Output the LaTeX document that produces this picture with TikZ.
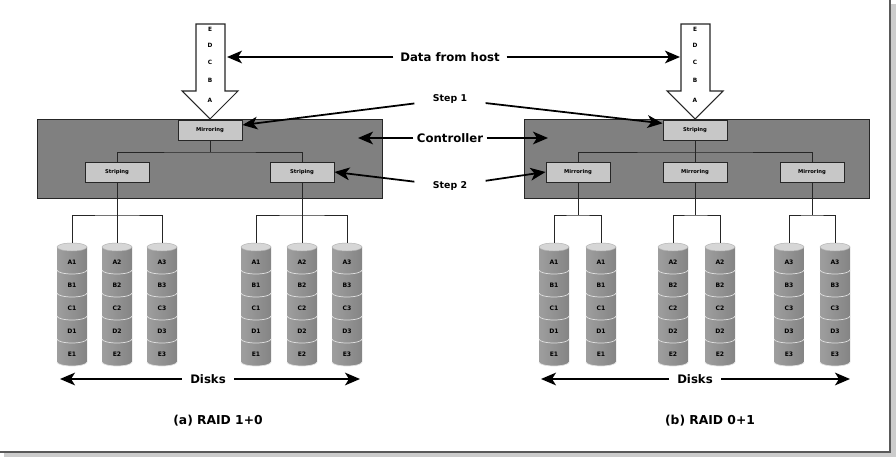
\documentclass[tikz,border=0pt]{standalone}
\usepackage{fontspec}
\setmainfont{DejaVu Sans}
\usetikzlibrary{positioning,arrows.meta,calc}
\tikzset{
  ctrl/.style={draw=black!85, thick, fill=black!50, minimum width=10.35cm, minimum height=2.37cm},
  unit/.style={draw=black!85, thick, fill=black!22, minimum width=1.92cm, minimum height=0.6cm, inner sep=0pt, font=\fontsize{4.5}{5}\selectfont\bfseries},
  lbl/.style={font=\fontsize{10}{12}\selectfont\bfseries, inner sep=1pt},
  steplbl/.style={font=\fontsize{8}{10}\selectfont\bfseries, inner ysep=1pt, inner xsep=0.55cm},
  capt/.style={font=\fontsize{10.5}{12}\selectfont\bfseries},
  ptr/.style={-{Stealth[length=4.5mm, width=3.8mm, inset=1.2mm]}, line width=1.5pt},
  wire/.style={draw=black!85, line width=0.8pt},
  hostarrow/.style={draw=black!85, line width=0.9pt, fill=white},
  letter/.style={font=\fontsize{5}{6}\selectfont\bfseries, inner sep=0pt},
  dlbl/.style={font=\fontsize{5.2}{6}\selectfont\bfseries, inner sep=0pt},
  disk/.style={left color=black!38, middle color=black!18, right color=black!48},
  diskrim/.style={draw=black!12, line width=0.6pt},
  disktop/.style={fill=black!16, draw=black!30, line width=0.4pt},
}
% one stack of disk blocks: x, name, number
\newcommand{\diskstack}[3]{%
  \coordinate (#2) at (#1,243);
  \foreach \k/\ltr in {5/E,4/D,3/C,2/B,1/A}{
    \pgfmathsetmacro{\yt}{247+(\k-1)*23}
    \pgfmathsetmacro{\yb}{\yt+23}
    \path[disk] (#1-15,\yt) -- (#1-15,\yb)
      arc[start angle=180, end angle=360, x radius=0.45cm, y radius=0.12cm]
      -- (#1+15,\yt) -- cycle;
    \draw[diskrim] (#1-15,\yb) arc[start angle=180, end angle=360, x radius=0.45cm, y radius=0.12cm];
    \node[dlbl] (#2-\ltr) at (#1,\yt+15) {\ltr#3};
  }
  \path[disktop] (#1,247) ellipse[x radius=0.45cm, y radius=0.12cm];
}

\begin{document}
\begin{tikzpicture}[x=0.03cm, y=-0.03cm]
  \useasboundingbox (0,0) rectangle (896,457);
  % frame shadow
  \fill[black!20] (4,452) rectangle (896,457);
  \fill[black!20] (890,4) rectangle (896,457);
  \draw[black!65, line width=1pt] (0,452) -- (890,452) -- (890,0);

  % controllers
  \node[ctrl] (ctrlL) at (209.5,158.5) {};
  \node[ctrl] (ctrlR) at (697,159) {};
  \coordinate (ctlL) at (358,138);
  \coordinate (ctlR) at (548,138);

  % data coming from the host
  \foreach \cx/\side in {210/L,695/R}{
    \draw[hostarrow] (\cx-14,24) -- (\cx+15,24) -- (\cx+15,91) -- (\cx+28,91)
      -- (\cx,119) -- (\cx-28,91) -- (\cx-14,91) -- cycle;
    \foreach \ltr/\y in {E/29,D/45,C/62,B/80,A/100}
      \node[letter] (in\side-\ltr) at (\cx,\y) {\ltr};
  }
  \coordinate (hostL) at (227,57);
  \coordinate (hostR) at (680,57);

  % RAID 1+0
  \node[unit] (mirL) at (210,130) {Mirroring};
  \node[unit] (strL1) at (117,172) {Striping};
  \node[unit] (strL2) at (302,172) {Striping};
  \coordinate (busL) at (210,152);
  \draw[wire] (mirL.south) -- (busL);
  \draw[wire] (strL1.north) |- (busL) -| (strL2.north);

  % RAID 0+1
  \node[unit] (strR) at (695,130) {Striping};
  \node[unit] (mirR1) at (578,172) {Mirroring};
  \node[unit] (mirR2) at (695,172) {Mirroring};
  \node[unit] (mirR3) at (812,172) {Mirroring};
  \coordinate (busR) at (695,152);
  \draw[wire] (strR.south) -- (mirR2.north);
  \draw[wire] (mirR1.north) |- (busR) -| (mirR3.north);

  % disks
  \diskstack{72}{dL1}{1}
  \diskstack{117}{dL2}{2}
  \diskstack{162}{dL3}{3}
  \diskstack{256}{dL4}{1}
  \diskstack{302}{dL5}{2}
  \diskstack{347}{dL6}{3}
  \diskstack{554}{dR1}{1}
  \diskstack{601}{dR2}{1}
  \diskstack{673}{dR3}{2}
  \diskstack{720}{dR4}{2}
  \diskstack{789}{dR5}{3}
  \diskstack{835}{dR6}{3}

  \coordinate (dbusL1) at (117,215);
  \coordinate (dbusL2) at (302,215);
  \coordinate (dbusR1) at (578,215);
  \coordinate (dbusR2) at (695,215);
  \coordinate (dbusR3) at (812,215);
  \draw[wire] (strL1.south) -- (dL2);
  \draw[wire] (dL1) |- (dbusL1) -| (dL3);
  \draw[wire] (strL2.south) -- (dL5);
  \draw[wire] (dL4) |- (dbusL2) -| (dL6);
  \draw[wire] (mirR1.south) -- (dbusR1);
  \draw[wire] (dR1) |- (dbusR1) -| (dR2);
  \draw[wire] (mirR2.south) -- (dbusR2);
  \draw[wire] (dR3) |- (dbusR2) -| (dR4);
  \draw[wire] (mirR3.south) -- (dbusR3);
  \draw[wire] (dR5) |- (dbusR3) -| (dR6);

  % labels in the middle
  \node[lbl, inner xsep=0.2cm] (host) at (450,57) {Data from host};
  \node[steplbl] (step1) at (450,99) {Step 1};
  \node[lbl, inner xsep=0.1cm] (ctl) at (450,138) {Controller};
  \node[steplbl] (step2) at (450,186) {Step 2};
  \draw[ptr] (host) -- (hostL);
  \draw[ptr] (host) -- (hostR);
  \draw[ptr] (step1) -- ([yshift=0.15cm]mirL.east);
  \draw[ptr] (step1) -- ([yshift=0.2cm]strR.west);
  \draw[ptr] (ctl) -- (ctlL);
  \draw[ptr] (ctl) -- (ctlR);
  \draw[ptr] (step2) -- (strL2.east);
  \draw[ptr] (step2) -- (mirR1.west);

  % disk arrows
  \node[lbl, inner xsep=0.25cm] (disksL) at (208,379) {Disks};
  \node[lbl, inner xsep=0.25cm] (disksR) at (695,379) {Disks};
  \coordinate (dkL1) at (60,379);
  \coordinate (dkL2) at (360,379);
  \coordinate (dkR1) at (541,379);
  \coordinate (dkR2) at (850,379);
  \draw[ptr] (disksL) -- (dkL1);
  \draw[ptr] (disksL) -- (dkL2);
  \draw[ptr] (disksR) -- (dkR1);
  \draw[ptr] (disksR) -- (dkR2);

  % captions
  \node[capt] (captL) at (218,421) {(a) RAID 1+0};
  \node[capt] (captR) at (710,421) {(b) RAID 0+1};
\end{tikzpicture}
\end{document}
